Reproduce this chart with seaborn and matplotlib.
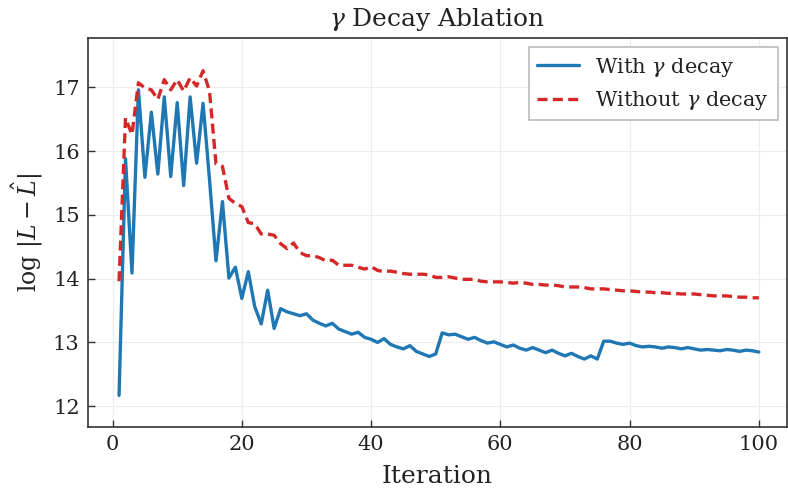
import numpy as np
import pandas as pd
import matplotlib
matplotlib.use("Agg")
import matplotlib.pyplot as plt
import seaborn as sns

iterations = list(range(1, 101))

with_decay = [
    12.17, 15.88, 14.09, 16.96, 15.59, 16.61, 15.64, 16.85, 15.60, 16.76,
    15.46, 16.85, 15.81, 16.75, 15.55, 14.28, 15.21, 14.01, 14.18, 13.69,
    14.11, 13.56, 13.29, 13.82, 13.22, 13.53, 13.48, 13.45, 13.42, 13.45,
    13.35, 13.30, 13.26, 13.30, 13.21, 13.17, 13.13, 13.16, 13.08, 13.05,
    13.00, 13.06, 12.97, 12.93, 12.90, 12.95, 12.86, 12.82, 12.78, 12.82,
    13.15, 13.12, 13.13, 13.09, 13.05, 13.08, 13.03, 12.99, 13.01, 12.97,
    12.93, 12.96, 12.91, 12.88, 12.92, 12.88, 12.84, 12.88, 12.83, 12.79,
    12.83, 12.78, 12.74, 12.79, 12.74, 13.02, 13.02, 12.99, 12.97, 12.99,
    12.95, 12.93, 12.94, 12.93, 12.91, 12.93, 12.92, 12.90, 12.92, 12.90,
    12.88, 12.89, 12.88, 12.87, 12.89, 12.88, 12.86, 12.88, 12.87, 12.85,
]

without_decay = [
    13.96, 16.52, 16.26, 17.07, 16.99, 16.96, 16.81, 17.12, 16.96, 17.12,
    16.94, 17.15, 17.02, 17.26, 16.94, 15.80, 15.76, 15.26, 15.18, 15.13,
    14.88, 14.86, 14.70, 14.70, 14.68, 14.55, 14.47, 14.56, 14.41, 14.36,
    14.36, 14.33, 14.28, 14.29, 14.21, 14.21, 14.21, 14.18, 14.15, 14.19,
    14.13, 14.11, 14.12, 14.10, 14.08, 14.07, 14.07, 14.07, 14.06, 14.02,
    14.02, 14.03, 14.01, 13.99, 13.99, 13.99, 13.96, 13.95, 13.95, 13.95,
    13.94, 13.93, 13.94, 13.93, 13.91, 13.91, 13.90, 13.90, 13.89, 13.87,
    13.87, 13.87, 13.86, 13.84, 13.84, 13.84, 13.83, 13.82, 13.81, 13.81,
    13.80, 13.79, 13.79, 13.78, 13.78, 13.77, 13.77, 13.76, 13.76, 13.76,
    13.75, 13.74, 13.73, 13.73, 13.73, 13.72, 13.71, 13.71, 13.70, 13.70,
]

labels = [r"With $\gamma$ decay", r"Without $\gamma$ decay"]

df = pd.DataFrame({
    "Iteration": iterations * 2,
    "value": with_decay + without_decay,
    "series": [labels[0]] * len(iterations) + [labels[1]] * len(iterations),
})

sns.set_theme(style="whitegrid")
plt.rcParams["font.family"] = ["DejaVu Serif"]
plt.rcParams["mathtext.fontset"] = "dejavuserif"

fig = plt.figure(figsize=(7.88, 4.93), dpi=100)
ax = fig.add_axes([0.1117, 0.1339, 0.887, 0.789])

sns.lineplot(
    data=df, x="Iteration", y="value", hue="series", style="series",
    palette=["#1f77b4", "#d62728"], dashes=[(None, None), (3.0, 1.6)],
    linewidth=2.4, ax=ax, legend=True,
)

ax.set_xlim(-3.8, 104.35)
ax.set_ylim(11.675, 17.773)
ax.set_xticks([0, 20, 40, 60, 80, 100])
ax.set_yticks([12, 13, 14, 15, 16, 17])

ax.set_facecolor("white")
ax.grid(True, color="#ececec", linewidth=0.8)
for s in ax.spines.values():
    s.set_color("#333333")
    s.set_linewidth(1.2)
ax.tick_params(axis="both", direction="in", length=5, width=1, color="#333333",
               labelsize=15, labelcolor="#222222", bottom=True, left=True, pad=6)

ax.set_title(r"$\gamma$ Decay Ablation", fontsize=18, color="#222222", pad=9)
ax.set_xlabel("Iteration", fontsize=18, color="#222222", labelpad=8)
ax.set_ylabel(r"$\log\,|L - \hat{L}|$", fontsize=17, color="#222222", labelpad=6)

leg = ax.legend(loc="upper right", fontsize=15, frameon=True, fancybox=False,
                edgecolor="#bbbbbb", framealpha=1.0, borderpad=0.4,
                handlelength=2.0, handletextpad=0.8, borderaxespad=0.45)
leg.get_frame().set_linewidth(1.2)
for t in leg.get_texts():
    t.set_color("#222222")

fig.savefig("out.png", dpi=100)
